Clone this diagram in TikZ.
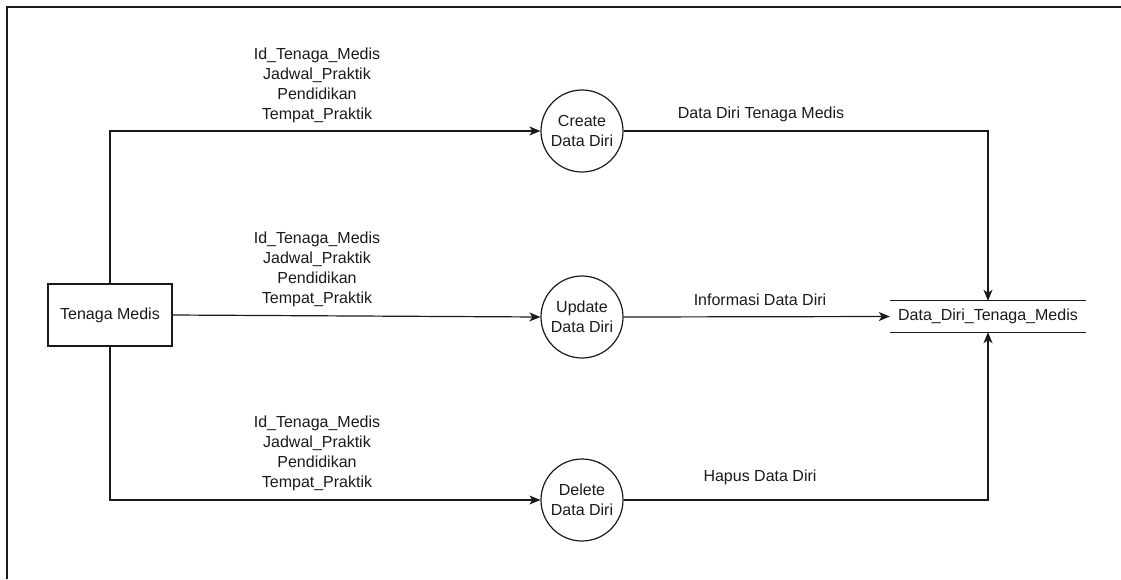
\documentclass[tikz,border=0pt]{standalone}
\usepackage{fontspec}
\setmainfont{Liberation Sans}
\usetikzlibrary{arrows.meta}
\definecolor{ink}{HTML}{1A1A1A}
\begin{document}
\begin{tikzpicture}[x=1pt,y=-1pt,
  every node/.style={font=\fontsize{16}{20}\selectfont, text=ink, inner sep=0pt},
  line/.style={draw=ink, line width=1.2pt},
  flow/.style={line, -{Stealth[length=11pt,width=9pt,inset=3pt]}},
  entity/.style={draw=ink, line width=1.2pt, minimum width=124pt, minimum height=62pt},
  proc/.style={draw=ink, line width=1.2pt, circle, minimum size=82pt, align=center},
  lbl/.style={align=center}]
\useasboundingbox (0,0) rectangle (1121,579);
\draw[draw=ink, line width=1.5pt] (7,579) -- (7,7) -- (1121,7);

\node[entity] (tm) at (110,315) {Tenaga Medis};
\node[proc] (create) at (582,131) {Create\\Data Diri};
\node[proc] (update) at (582,317) {Update\\Data Diri};
\node[proc] (delete) at (582,500) {Delete\\Data Diri};
\node[minimum width=196pt, minimum height=31pt] (store) at (988,316.5) {Data\_Diri\_Tenaga\_Medis};
\draw[line] (store.north west) -- (store.north east);
\draw[line] (store.south west) -- (store.south east);

\coordinate (ct) at (110,131);
\coordinate (cb) at (110,500);
\draw[flow] (tm.north) -- (ct) -- (create.west);
\draw[flow] (tm.east) -- (update.west);
\draw[flow] (tm.south) -- (cb) -- (delete.west);

\coordinate (rt) at (988,131);
\coordinate (rb) at (988,500);
\draw[flow] (create.east) -- (rt) -- (store.north);
\draw[flow] (update.east) -- (store.west);
\draw[flow] (delete.east) -- (rb) -- (store.south);

\node[lbl, anchor=south] (l1) at (317,123) {Id\_Tenaga\_Medis\\Jadwal\_Praktik\\Pendidikan\\Tempat\_Praktik};
\node[lbl, anchor=south] (l2) at (317,307) {Id\_Tenaga\_Medis\\Jadwal\_Praktik\\Pendidikan\\Tempat\_Praktik};
\node[lbl, anchor=south] (l3) at (317,491) {Id\_Tenaga\_Medis\\Jadwal\_Praktik\\Pendidikan\\Tempat\_Praktik};
\node (r1) at (761,114) {Data Diri Tenaga Medis};
\node (r2) at (760,300) {Informasi Data Diri};
\node (r3) at (760,477) {Hapus Data Diri};
\end{tikzpicture}
\end{document}
